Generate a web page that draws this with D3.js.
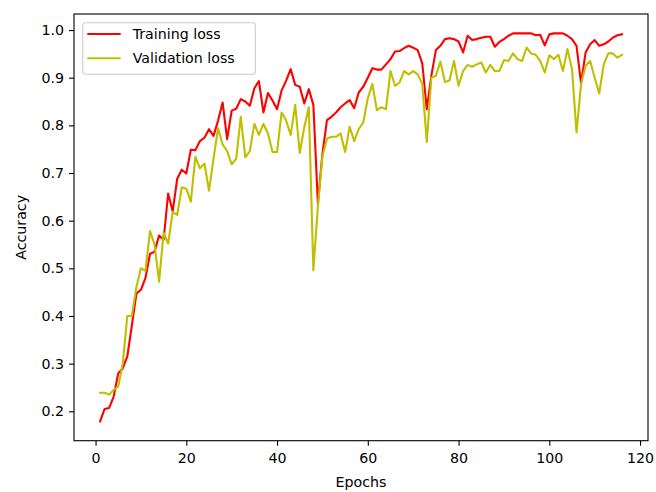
<!DOCTYPE html>
<html>
<head>
<meta charset="utf-8">
<script src="https://cdn.jsdelivr.net/npm/d3@7"></script>
<style>
  html, body { margin: 0; padding: 0; background: #fff; overflow: hidden; }
  svg { display: block; }
  text { font-family: "DejaVu Sans", sans-serif; }
</style>
</head>
<body>
<div id="chart"></div>
<script>
// accuracy per epoch
const trainAcc = [
  0.179, 0.205, 0.207, 0.231, 0.280, 0.290, 0.315, 0.380, 0.447, 0.455,
  0.480, 0.530, 0.535, 0.569, 0.560, 0.657, 0.620, 0.688, 0.707, 0.699,
  0.749, 0.748, 0.767, 0.774, 0.792, 0.778, 0.810, 0.848, 0.771, 0.831,
  0.835, 0.855, 0.850, 0.841, 0.878, 0.893, 0.827, 0.868, 0.852, 0.834,
  0.873, 0.894, 0.918, 0.885, 0.881, 0.846, 0.876, 0.843, 0.636, 0.740,
  0.811, 0.818, 0.827, 0.838, 0.846, 0.853, 0.836, 0.869, 0.881, 0.900,
  0.920, 0.917, 0.917, 0.928, 0.939, 0.955, 0.956, 0.962, 0.967, 0.963,
  0.958, 0.930, 0.834, 0.904, 0.958, 0.967, 0.981, 0.983, 0.981, 0.976,
  0.953, 0.988, 0.979, 0.981, 0.984, 0.986, 0.986, 0.965, 0.975, 0.981,
  0.988, 0.993, 0.993, 0.993, 0.993, 0.993, 0.989, 0.990, 0.968, 0.991,
  0.993, 0.993, 0.993, 0.988, 0.981, 0.967, 0.888, 0.953, 0.970, 0.979,
  0.967, 0.970, 0.976, 0.984, 0.989, 0.991
];
const valAcc = [
  0.239, 0.239, 0.235, 0.245, 0.252, 0.300, 0.400, 0.400, 0.461, 0.500,
  0.495, 0.578, 0.550, 0.472, 0.575, 0.552, 0.618, 0.612, 0.670, 0.667,
  0.640, 0.734, 0.710, 0.720, 0.663, 0.730, 0.794, 0.760, 0.746, 0.718,
  0.730, 0.818, 0.733, 0.746, 0.803, 0.780, 0.803, 0.783, 0.744, 0.744,
  0.827, 0.810, 0.780, 0.843, 0.742, 0.796, 0.838, 0.496, 0.630, 0.735,
  0.772, 0.776, 0.776, 0.783, 0.744, 0.797, 0.767, 0.792, 0.806, 0.857,
  0.887, 0.832, 0.838, 0.834, 0.914, 0.883, 0.890, 0.914, 0.907, 0.914,
  0.907, 0.887, 0.765, 0.900, 0.904, 0.934, 0.891, 0.894, 0.935, 0.883,
  0.914, 0.927, 0.923, 0.928, 0.932, 0.911, 0.927, 0.914, 0.914, 0.937,
  0.935, 0.951, 0.939, 0.935, 0.963, 0.951, 0.948, 0.935, 0.911, 0.947,
  0.939, 0.948, 0.914, 0.960, 0.918, 0.785, 0.887, 0.925, 0.935, 0.900,
  0.867, 0.928, 0.951, 0.951, 0.942, 0.948
];
const epochs = trainAcc.map((d, i) => i + 1);
const xTicks = [0, 20, 40, 60, 80, 100, 120];
const yTicks = [0.2, 0.3, 0.4, 0.5, 0.6, 0.7, 0.8, 0.9, 1.0];
const seriesNames = ["Training loss", "Validation loss"];
const seriesColors = ["#ff0000", "#bfbf00"];

const width = 656, height = 492;
const margin = { left: 74, right: 8, top: 14, bottom: 51.3 };
const innerWidth = width - margin.left - margin.right;
const innerHeight = height - margin.top - margin.bottom;
const fontSize = 14.2;

const svg = d3.select("#chart").append("svg")
  .attr("width", width)
  .attr("height", height);
const g = svg.append("g")
  .attr("transform", `translate(${margin.left},${margin.top})`);

// matplotlib style 5% padding
const xPad = (d3.max(epochs) - d3.min(epochs)) * 0.05;
const xScale = d3.scaleLinear()
  .domain([d3.min(epochs) - xPad, d3.max(epochs) + xPad])
  .range([0, innerWidth]);
const allVals = trainAcc.concat(valAcc);
const yPad = (d3.max(allVals) - d3.min(allVals)) * 0.05;
const yScale = d3.scaleLinear()
  .domain([d3.min(allVals) - yPad, d3.max(allVals) + yPad])
  .range([innerHeight, 0]);

//axis
const xAxis = g.append("g")
  .attr("transform", `translate(0,${innerHeight})`)
  .call(d3.axisBottom(xScale).tickValues(xTicks).tickSize(5).tickPadding(7.5).tickFormat(d3.format("d")));
const yAxis = g.append("g")
  .call(d3.axisLeft(yScale).tickValues(yTicks).tickSize(5).tickPadding(5).tickFormat(d3.format(".1f")));
[xAxis, yAxis].forEach((a) => {
  a.select(".domain").remove();
  a.selectAll("line").attr("stroke", "#000").attr("stroke-width", 1.1);
  a.selectAll("text").attr("fill", "#000").style("font-size", fontSize + "px")
    .style("font-family", "DejaVu Sans");
});

// lines
const line = (vals) => d3.line()
  .x((d, i) => xScale(epochs[i]))
  .y((d) => yScale(d))(vals);
[trainAcc, valAcc].forEach((vals, i) => {
  g.append("path")
    .attr("d", line(vals))
    .attr("fill", "none")
    .attr("stroke", seriesColors[i])
    .attr("stroke-width", 2.1)
    .attr("stroke-linejoin", "round")
    .attr("stroke-linecap", "square");
});

// frame
g.append("rect")
  .attr("width", innerWidth)
  .attr("height", innerHeight)
  .attr("fill", "none")
  .attr("stroke", "#000")
  .attr("stroke-width", 1.1);

//label
g.append("text")
  .attr("transform", `translate(${innerWidth / 2},${innerHeight + 46})`)
  .text("Epochs")
  .style("text-anchor", "middle")
  .style("font-size", fontSize + "px");
g.append("text")
  .attr("transform", `translate(-48,${innerHeight / 2}) rotate(-90)`)
  .text("Accuracy")
  .style("text-anchor", "middle")
  .style("font-size", fontSize + "px");

// legend
const legend = g.append("g").attr("transform", "translate(8.7,8.7)");
legend.append("rect")
  .attr("width", 172.6)
  .attr("height", 51.6)
  .attr("rx", 2.8)
  .attr("fill", "#fff")
  .attr("fill-opacity", 0.8)
  .attr("stroke", "#cccccc")
  .attr("stroke-width", 1.1);
seriesNames.forEach((name, i) => {
  const y = 11.3 + i * 24.3;
  legend.append("line")
    .attr("x1", 4.6).attr("x2", 38)
    .attr("y1", y).attr("y2", y)
    .attr("stroke", seriesColors[i])
    .attr("stroke-width", 2.1);
  legend.append("text")
    .attr("x", 50)
    .attr("y", y + 5)
    .text(name)
    .style("font-size", fontSize + "px");
});
</script>
</body>
</html>
